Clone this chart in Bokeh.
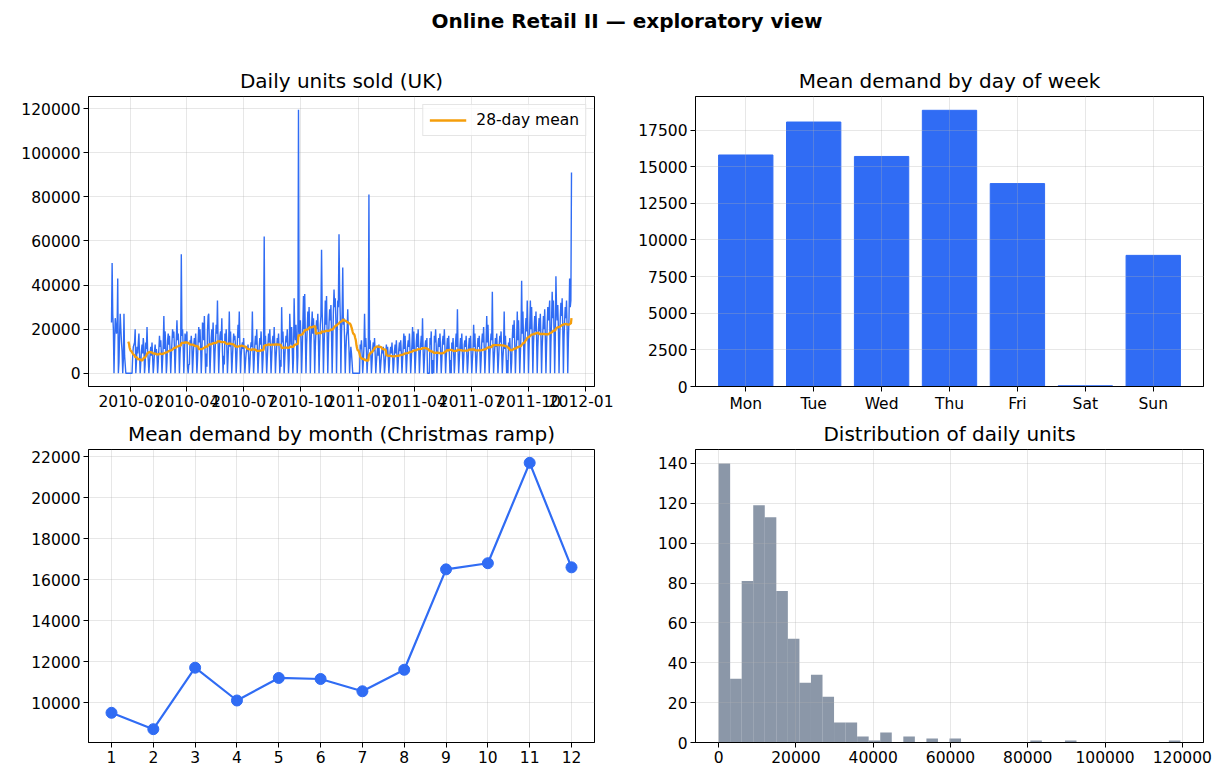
import numpy as np
import pandas as pd
from bokeh.plotting import figure
from bokeh.layouts import column, row
from bokeh.models import (Range1d, FixedTicker, SingleIntervalTicker,
                          DatetimeTickFormatter, NumeralTickFormatter, Label)
from bokeh.embed import file_html
from bokeh.resources import INLINE

# ---------------------------------------------------------------- data
SUPTITLE = "Online Retail II \u2014 exploratory view"
START_DATE = "2009-12-01"

# Daily units sold (UK), thousands; one row per Mon..Sun week.
# First row starts on Tue 2009-12-01, last row ends on Fri 2011-12-09.
daily_k_weeks = [
    [23, 50, 27, 20, 0, 14],             # 2009-11-30
    [25, 22, 18, 20, 43, 0, 5],          # 2009-12-07
    [18, 27, 20, 14, 10, 0, 6],          # 2009-12-14
    [27, 8, 4, 0, 0, 0, 0],              # 2009-12-21
    [0, 0, 0, 0, 0, 0, 0],               # 2009-12-28
    [8, 12, 13, 14, 20, 0, 5],           # 2010-01-04
    [12, 9, 14, 18, 8, 0, 5],            # 2010-01-11
    [10, 13, 9, 16, 12, 0, 4],           # 2010-01-18
    [14, 11, 21, 10, 6, 0, 5],           # 2010-01-25
    [9, 12, 8, 14, 7, 0, 4],             # 2010-02-01
    [10, 13, 9, 11, 8, 0, 5],            # 2010-02-08
    [11, 17, 12, 15, 9, 0, 6],           # 2010-02-15
    [13, 26, 11, 19, 12, 0, 5],          # 2010-02-22
    [15, 18, 13, 17, 10, 0, 8],          # 2010-03-01
    [14, 20, 16, 19, 11, 0, 9],          # 2010-03-08
    [16, 24, 15, 18, 13, 0, 9],          # 2010-03-15
    [14, 54, 17, 20, 12, 0, 8],          # 2010-03-22
    [18, 16, 14, 19, 3, 0, 4],           # 2010-03-29
    [4, 15, 13, 17, 12, 0, 7],           # 2010-04-05
    [13, 16, 12, 18, 10, 0, 6],          # 2010-04-12
    [15, 21, 14, 20, 12, 0, 8],          # 2010-04-19
    [23, 22, 15, 26, 11, 0, 9],          # 2010-04-26
    [3, 19, 26, 27, 13, 0, 8],           # 2010-05-03
    [16, 20, 14, 23, 12, 0, 9],          # 2010-05-10
    [15, 22, 18, 33, 14, 0, 9],          # 2010-05-17
    [17, 19, 15, 25, 10, 0, 8],          # 2010-05-24
    [4, 18, 14, 20, 12, 0, 7],           # 2010-05-31
    [14, 28, 12, 19, 10, 0, 7],          # 2010-06-07
    [13, 18, 15, 17, 11, 0, 6],          # 2010-06-14
    [15, 22, 16, 28, 12, 0, 8],          # 2010-06-21
    [12, 14, 11, 16, 9, 0, 5],           # 2010-06-28
    [9, 11, 10, 13, 8, 0, 4],            # 2010-07-05
    [11, 14, 12, 28, 10, 0, 6],          # 2010-07-12
    [13, 17, 13, 20, 11, 0, 7],          # 2010-07-19
    [12, 16, 13, 19, 11, 0, 6],          # 2010-07-26
    [14, 62, 13, 17, 9, 0, 7],           # 2010-08-02
    [13, 18, 14, 20, 11, 0, 7],          # 2010-08-09
    [14, 17, 13, 21, 12, 0, 7],          # 2010-08-16
    [12, 16, 13, 18, 10, 0, 6],          # 2010-08-23
    [3, 30, 14, 19, 11, 0, 7],           # 2010-08-30
    [13, 17, 14, 20, 10, 0, 6],          # 2010-09-06
    [27, 18, 13, 21, 11, 0, 7],          # 2010-09-13
    [34, 19, 15, 22, 13, 0, 8],          # 2010-09-20
    [119.5, 20, 17, 24, 15, 0, 10],      # 2010-09-27
    [22, 35, 20, 36, 17, 0, 13],         # 2010-10-04
    [20, 28, 21, 30, 19, 0, 13],         # 2010-10-11
    [21, 28, 18, 25, 16, 0, 12],         # 2010-10-18
    [19, 24, 20, 27, 15, 0, 11],         # 2010-10-25
    [22, 26, 56, 28, 18, 0, 12],         # 2010-11-01
    [21, 33, 22, 35, 17, 0, 13],         # 2010-11-08
    [23, 29, 24, 31, 18, 0, 14],         # 2010-11-15
    [28, 38, 30, 34, 24, 0, 17],         # 2010-11-22
    [33, 30, 63, 38, 26, 0, 18],         # 2010-11-29
    [27, 48, 22, 25, 15, 0, 10],         # 2010-12-06
    [17, 19, 29, 18, 11, 0, 7],          # 2010-12-13
    [12, 9, 5, 0, 0, 0, 0],              # 2010-12-20
    [0, 0, 0, 0, 0, 0, 0],               # 2010-12-27
    [0, 13, 11, 15, 9, 0, 5],            # 2011-01-03
    [12, 27, 12, 16, 10, 0, 6],          # 2011-01-10
    [12, 81, 11, 15, 9, 0, 5],           # 2011-01-17
    [11, 14, 10, 16, 9, 0, 5],           # 2011-01-24
    [9, 12, 8, 13, 7, 0, 4],             # 2011-01-31
    [8, 11, 9, 12, 7, 0, 4],             # 2011-02-07
    [9, 13, 8, 12, 7, 0, 5],             # 2011-02-14
    [10, 12, 9, 14, 8, 0, 4],            # 2011-02-21
    [10, 13, 9, 15, 8, 0, 5],            # 2011-02-28
    [11, 14, 10, 15, 9, 0, 6],           # 2011-03-07
    [12, 18, 11, 17, 9, 0, 6],           # 2011-03-14
    [12, 15, 12, 18, 10, 0, 6],          # 2011-03-21
    [13, 21, 11, 19, 10, 0, 7],          # 2011-03-28
    [14, 18, 12, 20, 11, 0, 7],          # 2011-04-04
    [13, 17, 12, 25, 10, 0, 6],          # 2011-04-11
    [12, 15, 11, 16, 0, 0, 0],           # 2011-04-18
    [0, 16, 13, 19, 0, 0, 6],            # 2011-04-25
    [0, 17, 14, 20, 12, 0, 7],           # 2011-05-02
    [13, 16, 12, 18, 10, 0, 6],          # 2011-05-09
    [14, 17, 13, 20, 11, 0, 7],          # 2011-05-16
    [12, 16, 11, 17, 9, 0, 6],           # 2011-05-23
    [0, 14, 11, 16, 9, 0, 5],            # 2011-05-30
    [14, 18, 12, 29, 10, 0, 6],          # 2011-06-06
    [12, 16, 11, 18, 9, 0, 6],           # 2011-06-13
    [13, 15, 12, 17, 9, 0, 5],           # 2011-06-20
    [12, 16, 11, 17, 9, 0, 6],           # 2011-06-27
    [11, 22, 12, 18, 9, 0, 5],           # 2011-07-04
    [12, 16, 12, 17, 10, 0, 6],          # 2011-07-11
    [14, 18, 14, 21, 11, 0, 7],          # 2011-07-18
    [15, 26, 14, 22, 12, 0, 8],          # 2011-07-25
    [14, 18, 15, 37, 12, 0, 7],          # 2011-08-01
    [12, 16, 12, 18, 10, 0, 6],          # 2011-08-08
    [13, 17, 14, 19, 10, 0, 7],          # 2011-08-15
    [12, 28, 11, 17, 9, 0, 6],           # 2011-08-22
    [0, 14, 11, 16, 9, 0, 5],            # 2011-08-29
    [16, 22, 16, 24, 13, 0, 9],          # 2011-09-05
    [15, 28, 15, 24, 13, 0, 9],          # 2011-09-12
    [18, 42, 18, 28, 16, 0, 11],         # 2011-09-19
    [20, 25, 19, 33, 17, 0, 12],         # 2011-09-26
    [21, 33, 20, 30, 17, 0, 13],         # 2011-10-03
    [20, 26, 19, 28, 16, 0, 12],         # 2011-10-10
    [20, 25, 19, 27, 16, 0, 12],         # 2011-10-17
    [19, 26, 20, 29, 16, 0, 12],         # 2011-10-24
    [22, 30, 24, 28, 33, 0, 14],         # 2011-10-31
    [24, 37, 25, 33, 19, 0, 15],         # 2011-11-07
    [44, 30, 24, 31, 20, 0, 15],         # 2011-11-14
    [25, 32, 26, 34, 21, 0, 16],         # 2011-11-21
    [24, 30, 25, 33, 20, 0, 15],         # 2011-11-28
    [25, 43, 30, 33, 91],                # 2011-12-05
]
ROLL_WINDOW = 28
tick_months = ["2010-01", "2010-04", "2010-07", "2010-10", "2011-01",
               "2011-04", "2011-07", "2011-10", "2012-01"]

weekdays = ["Mon", "Tue", "Wed", "Thu", "Fri", "Sat", "Sun"]
weekday_mean = [15800, 18050, 15700, 18850, 13850, 50, 8950]

months = [1, 2, 3, 4, 5, 6, 7, 8, 9, 10, 11, 12]
month_mean = [9500, 8700, 11700, 10100, 11200, 11150,
              10550, 11600, 16500, 16800, 21700, 16600]

# counts of days per bin (40 equal bins spanning min..max daily units)
hist_counts = [140, 32, 81, 119, 113, 76, 52, 30, 34, 23,
               10, 10, 3, 1, 5, 0, 3, 0, 2, 0,
               2, 0, 0, 0, 0, 0, 0, 1, 0, 0,
               1, 0, 0, 0, 0, 0, 0, 0, 0, 1]

# ---------------------------------------------------------------- style
FONT = "DejaVu Sans"
BLUE = "#306cf4"
ORANGE = "#f59e0b"
SLATE = "#64748b"
TICK_SIZE = "15.5px"
TITLE_SIZE = "20px"

daily = np.array([v for wk in daily_k_weeks for v in wk], dtype=float) * 1000
dates = pd.date_range(START_DATE, periods=len(daily), freq="D")
rolling = pd.Series(daily).rolling(ROLL_WINDOW).mean().to_numpy()


def padded(lo, hi, frac=0.05):
    span = hi - lo
    return lo - frac * span, hi + frac * span


def style(p, grid_on_top=False):
    p.outline_line_color = "black"
    p.outline_line_width = 1
    p.background_fill_color = "white"
    p.border_fill_color = "white"
    for ax in p.axis:
        ax.axis_line_color = "black"
        ax.axis_line_width = 1
        ax.major_tick_line_color = "black"
        ax.major_tick_out = 5
        ax.major_tick_in = 0
        ax.minor_tick_line_color = None
        ax.major_label_text_font = FONT
        ax.major_label_text_font_size = TICK_SIZE
        ax.major_label_text_color = "black"
        ax.major_label_standoff = 3
    for g in p.grid:
        g.grid_line_color = "#b0b0b0"
        g.grid_line_alpha = 0.3
        g.grid_line_width = 1
        if grid_on_top:
            g.level = "annotation"
    p.title.text_font = FONT
    p.title.text_font_size = TITLE_SIZE
    p.title.text_font_style = "normal"
    p.title.text_color = "black"
    p.title.align = "center"
    p.title.standoff = 8


common = dict(toolbar_location=None, output_backend="svg")
LEFT_COL = dict(width=613, min_border_left=88, min_border_right=19)
RIGHT_COL = dict(width=613, min_border_left=82, min_border_right=23)
TOP_ROW = dict(height=375, min_border_top=56, min_border_bottom=25)
BOTTOM_ROW = dict(height=369, min_border_top=33, min_border_bottom=42)

# header with the overall title
header = figure(width=1226, height=40, x_range=Range1d(0, 1), y_range=Range1d(0, 1),
                x_axis_location=None, y_axis_location=None, min_border=0, **common)
header.outline_line_color = None
for g in header.grid:
    g.visible = False
header.add_layout(Label(x=0.511, y=0.5, text=SUPTITLE, text_align="center",
                        text_baseline="middle", text_font=FONT,
                        text_font_size="20px", text_font_style="bold",
                        text_color="black"))

# ---- daily units time series
t0 = dates[0].value / 1e6
t1 = dates[-1].value / 1e6
xlo, xhi = padded(t0, t1)
ylo, yhi = padded(0, daily.max())
ts = figure(x_axis_type="datetime", title="Daily units sold (UK)",
            x_range=Range1d(xlo, xhi), y_range=Range1d(ylo, yhi),
            **LEFT_COL, **TOP_ROW, **common)
ts.line(dates, daily, color=BLUE, line_width=1.4)
ts.line(dates, rolling, color=ORANGE, line_width=2.3, legend_label=f"{ROLL_WINDOW}-day mean")
ts.xaxis.ticker = FixedTicker(ticks=[pd.Timestamp(m + "-01").value / 1e6 for m in tick_months])
fmt = "%Y-%m"
ts.xaxis.formatter = DatetimeTickFormatter(days=fmt, months=fmt, years=fmt, hours=fmt,
                                           hourmin=fmt, minutes=fmt)
ts.yaxis.ticker = SingleIntervalTicker(interval=20000)
ts.yaxis.formatter = NumeralTickFormatter(format="0")
style(ts)
ts.legend.location = "top_right"
ts.legend.label_text_font = FONT
ts.legend.label_text_font_size = "15.5px"
ts.legend.label_text_color = "black"
ts.legend.border_line_color = "#cccccc"
ts.legend.background_fill_alpha = 0.8
ts.legend.glyph_width = 37
ts.legend.glyph_height = 18
ts.legend.label_standoff = 10
ts.legend.padding = 6
ts.legend.margin = 8

# ---- weekday bars
xpos = list(range(len(weekdays)))
bw = 0.8
bx_lo, bx_hi = padded(xpos[0] - bw / 2, xpos[-1] + bw / 2)
dow = figure(title="Mean demand by day of week",
             x_range=Range1d(bx_lo, bx_hi), y_range=Range1d(0, 1.05 * max(weekday_mean)),
             **RIGHT_COL, **TOP_ROW, **common)
dow.vbar(x=xpos, top=weekday_mean, width=bw, color=BLUE)
dow.xaxis.ticker = FixedTicker(ticks=xpos)
dow.xaxis.major_label_overrides = {i: d for i, d in zip(xpos, weekdays)}
dow.yaxis.ticker = SingleIntervalTicker(interval=2500)
dow.yaxis.formatter = NumeralTickFormatter(format="0")
style(dow, grid_on_top=True)

# ---- monthly means
mx_lo, mx_hi = padded(min(months), max(months))
my_lo, my_hi = padded(min(month_mean), max(month_mean))
mon = figure(title="Mean demand by month (Christmas ramp)",
             x_range=Range1d(mx_lo, mx_hi), y_range=Range1d(my_lo, my_hi),
             **LEFT_COL, **BOTTOM_ROW, **common)
mon.line(months, month_mean, color=BLUE, line_width=2.2)
mon.scatter(months, month_mean, size=11, color=BLUE)
mon.xaxis.ticker = FixedTicker(ticks=months)
mon.yaxis.ticker = SingleIntervalTicker(interval=2000)
mon.yaxis.formatter = NumeralTickFormatter(format="0")
style(mon)

# ---- histogram of daily units
edges = np.linspace(daily.min(), daily.max(), len(hist_counts) + 1)
hx_lo, hx_hi = padded(edges[0], edges[-1])
hist = figure(title="Distribution of daily units",
              x_range=Range1d(hx_lo, hx_hi), y_range=Range1d(0, 1.05 * max(hist_counts)),
              **RIGHT_COL, **BOTTOM_ROW, **common)
hist.quad(left=edges[:-1], right=edges[1:], bottom=0, top=hist_counts,
          fill_color=SLATE, fill_alpha=0.75, line_color=None)
hist.xaxis.ticker = SingleIntervalTicker(interval=20000)
hist.xaxis.formatter = NumeralTickFormatter(format="0")
hist.yaxis.ticker = SingleIntervalTicker(interval=20)
style(hist, grid_on_top=True)

layout = column(header, row(ts, dow), row(mon, hist))
open("out.html", "w").write(file_html(layout, INLINE, title=SUPTITLE))
